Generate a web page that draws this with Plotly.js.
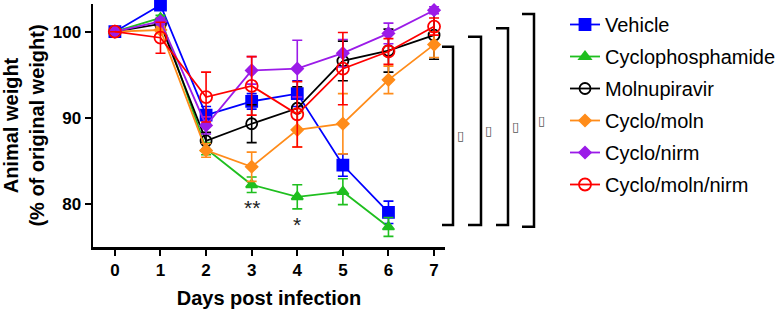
<!DOCTYPE html>
<html><head><meta charset="utf-8">
<script src="https://cdn.plot.ly/plotly-3.0.1.min.js"></script>
<style>html,body{margin:0;padding:0;background:#fff}</style>
</head><body><div id="chart" style="width:777px;height:311px"></div>
<script>
const days = [0,1,2,3,4,5,6,7];
const seriesNames = ["Vehicle","Cyclophosphamide","Molnupiravir","Cyclo/moln","Cyclo/nirm","Cyclo/moln/nirm"];
const vehicle      = [100,103.1,90.3,91.9,92.8,84.5,79.0,null];
const vehicleErr   = [0,0.3,1.0,0.9,1.5,1.3,1.3,0];
const cyclo        = [100,101.6,86.4,82.2,80.8,81.4,77.3,null];
const cycloErr     = [0,0.3,0.7,0.9,1.4,1.5,1.1,0];
const moln         = [100,100.9,87.3,89.3,91.1,96.6,97.8,99.6];
const molnErr      = [0,0.5,1.0,2.2,2.5,2.3,2.5,2.8];
const cycloMoln    = [100,100.2,86.2,84.3,88.6,89.3,94.4,98.5];
const cycloMolnErr = [0,0.4,0.8,1.7,2.0,3.5,1.6,1.5];
const cycloNirm    = [100,101.2,89.1,95.5,95.7,97.5,99.8,102.5];
const cycloNirmErr = [0,0.4,1.0,1.6,3.3,1.6,1.2,0.4];
const tripleCombo  = [100,99.3,92.4,93.7,90.4,95.7,97.7,100.6];
const tripleErr    = [0,1.8,2.9,3.4,3.8,4.2,1.5,1.0];
const sigLabels = [{day:3,y:79.6,text:"**"},{day:4,y:77.6,text:"*"}];
const bracketMark = "\u25AF";

const FONT = "Arial, 'Liberation Sans', sans-serif";
const colors = ["#0000ff","#1fbf1f","#000000","#ff8c1a","#9b1be8","#ff0000"];
const symbols = ["square","triangle-up","circle-open","diamond","diamond","circle-open"];
const sizes = [11,10,11,9,9,12];
const ys = [vehicle,cyclo,moln,cycloMoln,cycloNirm,tripleCombo];
const es = [vehicleErr,cycloErr,molnErr,cycloMolnErr,cycloNirmErr,tripleErr];

const traces = seriesNames.map((n,i)=>({
  x: days, y: ys[i], name: n, type:"scatter", mode:"lines+markers",
  legendgroup: "g"+i,
  line:{color:colors[i],width:1.8},
  marker:{symbol:symbols[i],size:sizes[i],color:colors[i],line:{color:colors[i],width:1.8}},
  error_y:{type:"data",array:es[i],visible:true,color:colors[i],thickness:1.6,width:5},
  cliponaxis:false
}));

// layout geometry
const W=777, H=311;
const L=93, R=445, T=4, B=247;
const yr=[74.97,103.22];
const px = p => (p-L)/(R-L);
const pyPix = p => (B-p)/(B-T);

const brackets = [
  {x0:442,x1:453,top:46.7,bot:225},
  {x0:468,x1:481,top:36.7,bot:225},
  {x0:496,x1:508,top:28.3,bot:225},
  {x0:522,x1:534,top:14,bot:226.7}
];
const shapes=[];
const annotations=[];
brackets.forEach(b=>{
  shapes.push({type:"path",xref:"paper",yref:"paper",
    path:`M ${px(b.x0)} ${pyPix(b.top)} L ${px(b.x1)} ${pyPix(b.top)} L ${px(b.x1)} ${pyPix(b.bot)} L ${px(b.x0)} ${pyPix(b.bot)}`,
    line:{color:"#000",width:2.5}});
  annotations.push({xref:"paper",yref:"paper",x:px(b.x1+13),y:pyPix((b.top+b.bot)/2),text:bracketMark,
    showarrow:false,font:{family:"DejaVu Sans",size:13,color:"#555"}});
});
sigLabels.forEach(s=>annotations.push({x:s.day,y:s.y,xref:"x",yref:"y",text:s.text,showarrow:false,
  font:{family:FONT,size:21,color:"#222"}}));

const layout = {
  width:W,height:H,
  margin:{l:L,r:W-R,t:T,b:H-B},
  paper_bgcolor:"#fff",plot_bgcolor:"#fff",
  font:{family:FONT,color:"#000"},
  showlegend:true,
  legend:{xref:"container",yref:"container",x:565/W,y:1-5/H,xanchor:"left",yanchor:"top",tracegroupgap:3,
    maxheight:305,
    font:{family:FONT,size:20,color:"#000"},bgcolor:"rgba(0,0,0,0)"},
  xaxis:{range:[-0.48,7.24],tickvals:days,ticktext:days.map(String),showgrid:false,zeroline:false,
    showline:true,linecolor:"#000",linewidth:2.5,ticks:"outside",ticklen:6,tickwidth:2,tickcolor:"#000",
    tickfont:{family:FONT,size:17,color:"#000",weight:"bold"},
    title:{text:"<b>Days post infection</b>",font:{family:FONT,size:20,color:"#000"},standoff:12}},
  yaxis:{range:yr,tickvals:[80,90,100],showgrid:false,zeroline:false,
    showline:true,linecolor:"#000",linewidth:2.5,ticks:"outside",ticklen:6,tickwidth:2,tickcolor:"#000",
    tickfont:{family:FONT,size:17,color:"#000",weight:"bold"},
    title:{text:"<b>Animal weight<br>(% of original weight)</b>",font:{family:FONT,size:20,color:"#000"},standoff:8}},
  shapes:shapes, annotations:annotations
};
Plotly.newPlot("chart",traces,layout,{displayModeBar:false,staticPlot:true});
</script></body></html>
